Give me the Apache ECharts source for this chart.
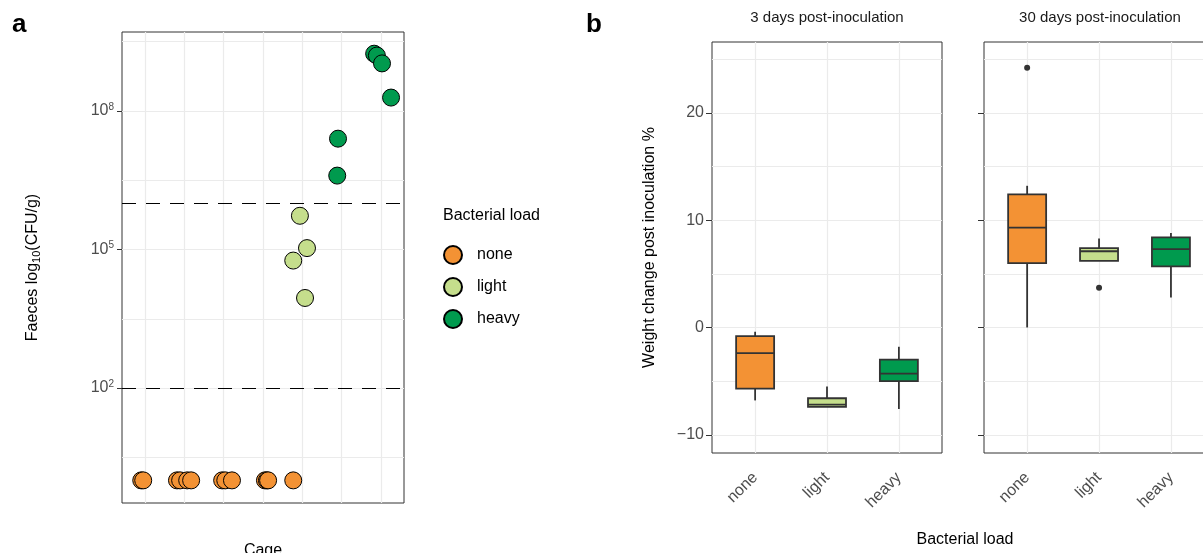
<!DOCTYPE html>
<html>
<head>
<meta charset="utf-8">
<script src="https://cdn.jsdelivr.net/npm/echarts@6/dist/echarts.min.js"></script>
<style>html,body{margin:0;background:#fff}#main{width:1203px;height:553px}</style>
</head>
<body>
<div id="main"></div>
<script>
// panel a data: [cage position, log10 CFU/g]
var ptsNone = [[0.9,0],[0.95,0],[1.81,0],[1.89,0],[2.07,0],[2.17,0],[2.96,0],[3.04,0],[3.21,0],[4.05,0],[4.1,0],[4.13,0],[4.77,0]];
var ptsLight = [[4.94,5.73],[5.12,5.03],[4.77,4.76],[5.07,3.95]];
var ptsHeavy = [[5.89,6.6],[5.91,7.4],[6.83,9.24],[6.9,9.2],[7.03,9.03],[7.26,8.29]];
var cageTicks = [1,2,3,4,5,6,7];
var logTicks = [2,5,8];
var thresholds = [2,6];

// panel b data: [min, q1, median, q3, max]
var loads = ['none','light','heavy'];
var box3 = [[-6.8,-5.7,-2.4,-0.8,-0.4],[-7.4,-7.4,-7.2,-6.6,-5.5],[-7.6,-5.0,-4.3,-3.0,-1.8]];
var box30 = [[0.0,6.0,9.3,12.4,13.2],[6.2,6.2,7.1,7.4,8.3],[2.8,5.7,7.3,8.4,8.8]];
var out30 = [[1,24.2],[2,3.7]];
var weightTicks = [-10,0,10,20];
var weightMinor = [-5,5,15,25];

var colors = ['#F39234','#C5DE8C','#009A4E'];
var gridCol = '#ebebeb';
var font = 'Liberation Sans, Arial, sans-serif';

var chart = echarts.init(document.getElementById('main'));

function gridLines(vals, axis) {
    return vals.map(function (v) { var o = {}; o[axis] = v; return o; });
}
function boxItem(params, api) {
    var x = api.value(0);
    var w = 38;
    var lo = api.coord([x, api.value(1)]), q1 = api.coord([x, api.value(2)]),
        md = api.coord([x, api.value(3)]), q3 = api.coord([x, api.value(4)]),
        hi = api.coord([x, api.value(5)]);
    var ln = {stroke: '#333', lineWidth: 1.8};
    return {type: 'group', children: [
        {type: 'line', shape: {x1: lo[0], y1: lo[1], x2: q1[0], y2: q1[1]}, style: ln},
        {type: 'line', shape: {x1: q3[0], y1: q3[1], x2: hi[0], y2: hi[1]}, style: ln},
        {type: 'rect', shape: {x: q3[0] - w / 2, y: q3[1], width: w, height: q1[1] - q3[1]},
            style: {fill: colors[params.dataIndex], stroke: '#333', lineWidth: 1.8}},
        {type: 'line', shape: {x1: md[0] - w / 2, y1: md[1], x2: md[0] + w / 2, y2: md[1]}, style: ln}
    ]};
}
function boxData(arr) {
    return arr.map(function (b, i) { return [i + 1].concat(b); });
}
var gl = {silent: true, symbol: 'none', label: {show: false}, lineStyle: {color: gridCol, type: 'solid', width: 1.2}};
var xLab = {customValues: [1,2,3], rotate: 45, fontSize: 16, color: '#4d4d4d', margin: 22,
    formatter: function (v) { return loads[Math.round(v) - 1]; }};

option = {
    animation: false,
    textStyle: {fontFamily: font},
    grid: [
        {left: 122, top: 32, width: 282, height: 471, outerBoundsMode: 'none', show: true, borderColor: '#333', borderWidth: 1},
        {left: 712, top: 42, width: 230, height: 411, outerBoundsMode: 'none', show: true, borderColor: '#333', borderWidth: 1},
        {left: 984, top: 42, width: 260, height: 411, outerBoundsMode: 'none', show: true, borderColor: '#333', borderWidth: 1}
    ],
    xAxis: [
        {gridIndex: 0, type: 'value', min: 0.41, max: 7.59, name: 'Cage', nameLocation: 'middle', nameGap: 40,
            nameTextStyle: {fontSize: 16, color: '#000'},
            axisLine: {show: false}, splitLine: {show: false},
            axisTick: {show: true, length: 5, customValues: cageTicks, lineStyle: {color: '#333'}},
            axisLabel: {show: false, customValues: cageTicks}},
        {gridIndex: 1, type: 'value', min: 0.4, max: 3.6, axisLine: {show: false}, splitLine: {show: false},
            axisTick: {show: true, length: 6, customValues: [1,2,3], lineStyle: {color: '#333'}},
            axisLabel: xLab},
        {gridIndex: 2, type: 'value', min: 0.4, max: 0.4 + 260 / 71.9, axisLine: {show: false}, splitLine: {show: false},
            axisTick: {show: true, length: 6, customValues: [1,2,3], lineStyle: {color: '#333'}},
            axisLabel: xLab}
    ],
    yAxis: [
        {gridIndex: 0, type: 'value', min: -0.49, max: 9.71, axisLine: {show: false}, splitLine: {show: false},
            name: 'Faeces log{s|10}(CFU/g)', nameLocation: 'middle', nameGap: 80, nameRotate: 90,
            nameTextStyle: {fontSize: 16, color: '#000', rich: {s: {fontSize: 11, verticalAlign: 'bottom', padding: [8,0,0,0]}}},
            axisTick: {show: true, length: 5, customValues: logTicks, lineStyle: {color: '#333'}},
            axisLabel: {customValues: logTicks, color: '#4d4d4d', fontSize: 16,
                formatter: function (v) { return '10{s|' + v + '}'; },
                rich: {s: {fontSize: 10, verticalAlign: 'top', padding: [0,0,8,0], color: '#4d4d4d'}}}},
        {gridIndex: 1, type: 'value', min: -11.7, max: 26.6, axisLine: {show: false}, splitLine: {show: false},
            name: 'Weight change post inoculation %', nameLocation: 'middle', nameGap: 54, nameRotate: 90,
            nameTextStyle: {fontSize: 16, color: '#000'},
            axisTick: {show: true, length: 6, customValues: weightTicks, lineStyle: {color: '#333'}},
            axisLabel: {customValues: weightTicks, color: '#4d4d4d', fontSize: 16,
                formatter: function (v) { return v < 0 ? '\u2212' + (-v) : v; }}},
        {gridIndex: 2, type: 'value', min: -11.7, max: 26.6, axisLine: {show: false}, splitLine: {show: false},
            axisTick: {show: true, length: 6, customValues: weightTicks, lineStyle: {color: '#333'}},
            axisLabel: {show: false, customValues: weightTicks}}
    ],
    legend: {
        left: 438, top: 240, orient: 'vertical', itemWidth: 18, itemHeight: 18, itemGap: 12,
        icon: 'circle', data: ['none','light','heavy'],
        textStyle: {fontSize: 16, color: '#000', padding: [0,0,0,10]}
    },
    graphic: [
        {type: 'text', left: 12, top: 12, style: {text: 'a', font: 'bold 26px ' + font, fill: '#000'}},
        {type: 'text', left: 586, top: 12, style: {text: 'b', font: 'bold 26px ' + font, fill: '#000'}},
        {type: 'text', left: 443, top: 208, style: {text: 'Bacterial load', font: '16px ' + font, fill: '#000'}},
        {type: 'text', x: 827, y: 10, style: {text: '3 days post-inoculation', font: '15px ' + font, fill: '#1a1a1a', align: 'center'}},
        {type: 'text', x: 1100, y: 10, style: {text: '30 days post-inoculation', font: '15px ' + font, fill: '#1a1a1a', align: 'center'}},
        {type: 'text', x: 965, y: 532, style: {text: 'Bacterial load', font: '16px ' + font, fill: '#000', align: 'center'}}
    ],
    series: [
        {type: 'line', xAxisIndex: 0, yAxisIndex: 0, data: [], silent: true, z: 0,
            markLine: Object.assign({}, gl, {data: gridLines(cageTicks, 'xAxis').concat(gridLines([0.5,2,3.5,5,6.5,8,9.5], 'yAxis'))})},
        {type: 'line', xAxisIndex: 0, yAxisIndex: 0, data: [], silent: true, z: 1,
            markLine: {silent: true, symbol: 'none', label: {show: false}, lineStyle: {color: '#000', type: [14, 10], width: 1},
                data: gridLines(thresholds, 'yAxis')}},
        {name: 'none', type: 'scatter', xAxisIndex: 0, yAxisIndex: 0, data: ptsNone, symbolSize: 17, z: 5,
            itemStyle: {color: colors[0], borderColor: '#000', borderWidth: 1, opacity: 1}},
        {name: 'light', type: 'scatter', xAxisIndex: 0, yAxisIndex: 0, data: ptsLight, symbolSize: 17, z: 5,
            itemStyle: {color: colors[1], borderColor: '#000', borderWidth: 1, opacity: 1}},
        {name: 'heavy', type: 'scatter', xAxisIndex: 0, yAxisIndex: 0, data: ptsHeavy, symbolSize: 17, z: 5,
            itemStyle: {color: colors[2], borderColor: '#000', borderWidth: 1, opacity: 1}},
        {type: 'line', xAxisIndex: 1, yAxisIndex: 1, data: [], silent: true, z: 0,
            markLine: Object.assign({}, gl, {data: gridLines([1,2,3], 'xAxis').concat(gridLines(weightTicks.concat(weightMinor), 'yAxis'))})},
        {type: 'line', xAxisIndex: 2, yAxisIndex: 2, data: [], silent: true, z: 0,
            markLine: Object.assign({}, gl, {data: gridLines([1,2,3], 'xAxis').concat(gridLines(weightTicks.concat(weightMinor), 'yAxis'))})},
        {type: 'custom', xAxisIndex: 1, yAxisIndex: 1, renderItem: boxItem, data: boxData(box3), encode: {x: 0, y: [1,2,3,4,5]}, z: 5},
        {type: 'custom', xAxisIndex: 2, yAxisIndex: 2, renderItem: boxItem, data: boxData(box30), encode: {x: 0, y: [1,2,3,4,5]}, z: 5},
        {type: 'scatter', xAxisIndex: 2, yAxisIndex: 2, data: out30, symbolSize: 6, z: 5, itemStyle: {color: '#333', opacity: 1}}
    ]
};
chart.setOption(option, true);
</script>
</body>
</html>
